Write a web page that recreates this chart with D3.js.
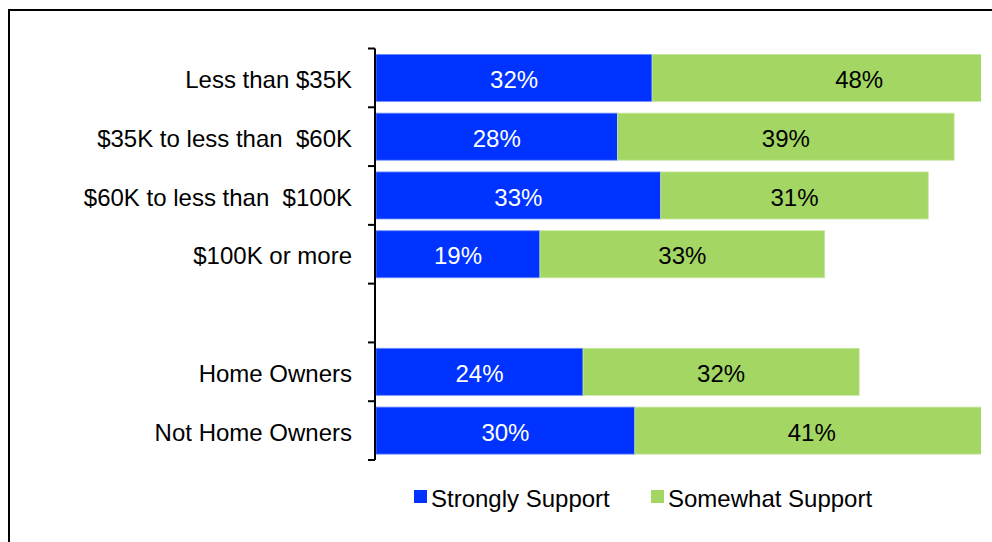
<!DOCTYPE html>
<html>
<head>
<meta charset="utf-8">
<script src="https://cdn.jsdelivr.net/npm/d3@7"></script>
<style>
  html, body { margin: 0; padding: 0; background: #fff; }
  svg { display: block; font-family: "Liberation Sans", Arial, sans-serif; }
</style>
</head>
<body>
<svg id="chart" width="992" height="542"></svg>
<script>
// Income / ownership groups; the empty slot separates the two blocks
const categories = ["Less than $35K", "$35K to less than  $60K", "$60K to less than  $100K", "$100K or more", "", "Home Owners", "Not Home Owners"];
const strongly = [32, 28, 33, 19, null, 24, 30];
const somewhat = [48, 39, 31, 33, null, 32, 41];
const seriesNames = ["Strongly Support", "Somewhat Support"];
const colors = ["#0033ff", "#a3d663"];

const svg = d3.select("#chart");
const plotLeft = 376, plotRight = 980, clipRight = 981, plotTop = 48.5, plotBottom = 460;

// outer frame
svg.append("rect")
  .attr("x", 9).attr("y", 10).attr("width", 1000).attr("height", 600)
  .attr("fill", "none").attr("stroke", "#000").attr("stroke-width", 2);

const x = d3.scaleLinear().domain([0, 70]).range([plotLeft, plotRight]);
const y = d3.scaleBand().domain(d3.range(categories.length)).range([plotTop, plotBottom]).paddingInner(0.2).paddingOuter(0.1);
const slot = d3.scaleBand().domain(d3.range(categories.length)).range([plotTop, plotBottom]);

svg.append("clipPath").attr("id", "plot-clip")
  .append("rect").attr("x", plotLeft).attr("y", 0).attr("width", clipRight - plotLeft).attr("height", 542);

const rows = categories.map((c, i) => ({ i, s: strongly[i], w: somewhat[i] })).filter(d => d.s != null);

const plot = svg.append("g").attr("clip-path", "url(#plot-clip)");

// stacked bars
plot.selectAll(".bar-s").data(rows).join("rect")
  .attr("x", x(0)).attr("y", d => y(d.i))
  .attr("width", d => x(d.s) - x(0)).attr("height", y.bandwidth())
  .attr("fill", colors[0]).attr("stroke", "#6f8cff").attr("stroke-width", 0.8);
plot.selectAll(".bar-w").data(rows).join("rect")
  .attr("x", d => x(d.s)).attr("y", d => y(d.i))
  .attr("width", d => x(d.s + d.w) - x(d.s)).attr("height", y.bandwidth())
  .attr("fill", colors[1]).attr("stroke", "#c6e6a0").attr("stroke-width", 0.8);

// value labels, centred on each segment
plot.selectAll(".lab-s").data(rows).join("text")
  .attr("x", d => (x(0) + x(d.s)) / 2).attr("y", d => y(d.i) + y.bandwidth() / 2)
  .attr("dy", "0.42em").attr("text-anchor", "middle")
  .attr("font-size", 24).attr("fill", "#fff")
  .text(d => d.s + "%");
plot.selectAll(".lab-w").data(rows).join("text")
  .attr("x", d => (x(d.s) + x(d.s + d.w)) / 2).attr("y", d => y(d.i) + y.bandwidth() / 2)
  .attr("dy", "0.42em").attr("text-anchor", "middle")
  .attr("font-size", 24).attr("fill", "#000")
  .text(d => d.w + "%");

// category axis with ticks between slots
const ax = svg.append("g");
ax.append("line").attr("x1", 375).attr("x2", 375).attr("y1", plotTop).attr("y2", plotBottom)
  .attr("stroke", "#000").attr("stroke-width", 2);
const tickYs = d3.range(categories.length + 1).map(k => plotTop + k * slot.bandwidth());
ax.selectAll(".tick").data(tickYs).join("line")
  .attr("x1", 368).attr("x2", 375).attr("y1", d => d).attr("y2", d => d)
  .attr("stroke", "#000").attr("stroke-width", 2);
ax.selectAll(".cat").data(categories).join("text")
  .attr("x", 352).attr("y", (d, i) => slot(i) + slot.bandwidth() / 2)
  .attr("dy", "0.42em").attr("text-anchor", "end")
  .attr("font-size", 24).attr("fill", "#000")
  .style("white-space", "pre")
  .text(d => d);

// legend
const legend = svg.append("g");
const legX = [414, 651];
seriesNames.forEach((name, k) => {
  legend.append("rect").attr("x", legX[k]).attr("y", 490).attr("width", 13).attr("height", 13).attr("fill", colors[k]);
  legend.append("text").attr("x", legX[k] + 17).attr("y", 507)
    .attr("font-size", 24).attr("fill", "#000").text(name);
});
</script>
</body>
</html>
